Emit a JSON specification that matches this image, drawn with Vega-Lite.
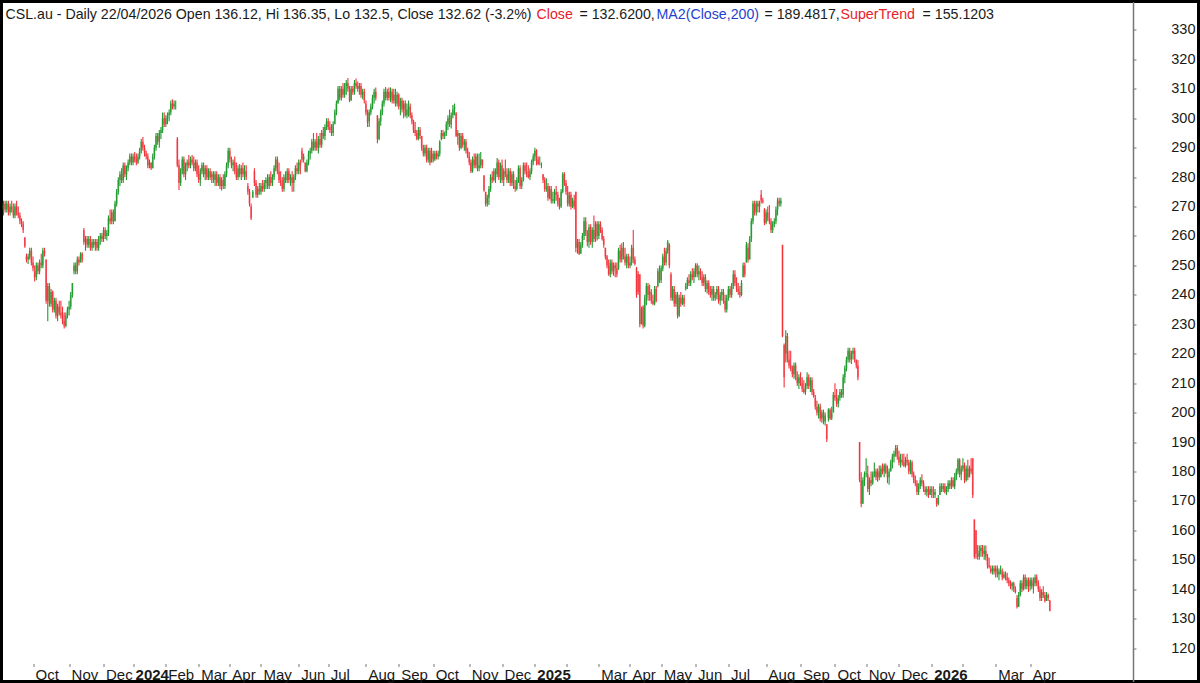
{"$schema":"https://vega.github.io/schema/vega-lite/v6.json","width":1197,"height":680,"autosize":{"type":"none"},"padding":{"left":1.5,"top":1.5,"right":1.5,"bottom":1.5},"background":"#ffffff","view":{"stroke":"#000000","strokeWidth":3},
"config":{"font":"Liberation Sans"},
"datasets":{"bars":[
{"d":1,"o":269,"h":272,"l":267,"c":271},{"d":2,"o":271,"h":272,"l":268,"c":269},{"d":3,"o":269,"h":272,"l":268,"c":271},{"d":4,"o":271,"h":272,"l":267,"c":268},{"d":5,"o":268,"h":271,"l":267,"c":270},{"d":6,"o":270,"h":272,"l":268,"c":269},{"d":7,"o":269,"h":271,"l":266,"c":267},{"d":8,"o":267,"h":271,"l":266,"c":270},{"d":9,"o":270,"h":272,"l":267,"c":268},{"d":10,"o":268,"h":270,"l":266,"c":267},
{"d":11,"o":267,"h":268,"l":264,"c":265},{"d":12,"o":265,"h":266,"l":263,"c":264},{"d":13,"o":264,"h":265,"l":261,"c":262},{"d":14,"o":259.5,"h":259.6,"l":256,"c":256.5},{"d":15,"o":253,"h":254,"l":251,"c":252},{"d":16,"o":252,"h":254,"l":250.5,"c":253},{"d":17,"o":253,"h":256,"l":252,"c":255},{"d":18,"o":255,"h":256,"l":250,"c":251},{"d":19,"o":251,"h":253,"l":248,"c":249},{"d":20,"o":248,"h":250,"l":244.5,"c":246},
{"d":21,"o":246,"h":251,"l":245,"c":250},{"d":22,"o":250,"h":251,"l":247,"c":248},{"d":23,"o":248,"h":252,"l":247,"c":251},{"d":24,"o":251,"h":254,"l":249,"c":250},{"d":25,"o":250,"h":256,"l":249,"c":255},{"d":26,"o":255,"h":256,"l":253,"c":254},{"d":27,"o":252,"h":252,"l":237,"c":238},{"d":28,"o":238,"h":244,"l":231,"c":243},{"d":29,"o":243,"h":244,"l":236,"c":237},{"d":30,"o":237,"h":242,"l":236,"c":241},
{"d":31,"o":241,"h":241.5,"l":234,"c":235},{"d":32,"o":235,"h":239,"l":234,"c":238},{"d":33,"o":238,"h":239,"l":232,"c":233},{"d":34,"o":233,"h":237,"l":231,"c":236},{"d":35,"o":236,"h":238,"l":233,"c":234},{"d":36,"o":234,"h":238,"l":232,"c":233},{"d":37,"o":233,"h":236,"l":230,"c":231},{"d":38,"o":231,"h":234,"l":228.6,"c":229.5},{"d":39,"o":229.5,"h":234,"l":229,"c":233},{"d":40,"o":233,"h":236,"l":232,"c":235},
{"d":41,"o":235,"h":238,"l":233,"c":236},{"d":42,"o":236,"h":241,"l":235,"c":240},{"d":43,"o":240,"h":244,"l":239,"c":244},{"d":44,"o":248,"h":251,"l":247,"c":250},{"d":45,"o":250,"h":251,"l":247,"c":248},{"d":46,"o":248,"h":253,"l":247,"c":252},{"d":47,"o":252,"h":253,"l":250,"c":251},{"d":48,"o":251,"h":254.5,"l":251,"c":254},{"d":49,"o":254,"h":254.5,"l":251,"c":252},{"d":50,"o":262,"h":262.7,"l":257,"c":258},
{"d":51,"o":258,"h":260,"l":255,"c":259},{"d":52,"o":259,"h":260,"l":256,"c":257},{"d":53,"o":257,"h":260,"l":256,"c":259},{"d":54,"o":259,"h":260,"l":255,"c":256},{"d":55,"o":256,"h":259,"l":255,"c":258},{"d":56,"o":258,"h":259,"l":256,"c":257},{"d":57,"o":257,"h":259,"l":255,"c":258},{"d":58,"o":258,"h":259,"l":255,"c":256},{"d":59,"o":256,"h":260,"l":255,"c":259},{"d":60,"o":259,"h":261,"l":257,"c":260},
{"d":61,"o":260,"h":261,"l":258,"c":259},{"d":62,"o":259,"h":263,"l":258,"c":262},{"d":63,"o":262,"h":263,"l":259,"c":260},{"d":64,"o":260,"h":262,"l":258.5,"c":261},{"d":65,"o":261,"h":267,"l":260,"c":266},{"d":66,"o":266,"h":269,"l":264,"c":265},{"d":67,"o":265,"h":269,"l":264,"c":268},{"d":68,"o":268,"h":269,"l":264,"c":265},{"d":69,"o":265,"h":272,"l":265,"c":271},{"d":70,"o":271,"h":276,"l":270,"c":275},
{"d":71,"o":275,"h":280,"l":274,"c":279},{"d":72,"o":279,"h":282,"l":277,"c":281},{"d":73,"o":281,"h":283,"l":278,"c":279},{"d":74,"o":279,"h":285,"l":278,"c":284},{"d":75,"o":284,"h":285,"l":280,"c":281},{"d":76,"o":281,"h":284,"l":279,"c":283},{"d":77,"o":283,"h":286,"l":282,"c":285},{"d":78,"o":285,"h":288,"l":284,"c":287},{"d":79,"o":287,"h":288,"l":284,"c":285},{"d":80,"o":285,"h":288,"l":284,"c":287},
{"d":81,"o":287,"h":288.5,"l":285,"c":286},{"d":82,"o":286,"h":288,"l":284,"c":285},{"d":83,"o":285,"h":288,"l":284.5,"c":287},{"d":84,"o":287,"h":290,"l":286,"c":289},{"d":85,"o":289,"h":293,"l":288,"c":292},{"d":86,"o":292,"h":293.6,"l":289,"c":290},{"d":87,"o":290,"h":291,"l":287,"c":288},{"d":88,"o":288,"h":289,"l":286,"c":287},{"d":89,"o":287,"h":288,"l":283,"c":284},{"d":90,"o":284,"h":286,"l":283,"c":285},
{"d":91,"o":285,"h":285,"l":282.4,"c":283},{"d":92,"o":283,"h":288,"l":283,"c":287},{"d":93,"o":287,"h":291,"l":286,"c":290},{"d":94,"o":290,"h":295,"l":289,"c":294},{"d":95,"o":294,"h":295,"l":291,"c":292},{"d":96,"o":292,"h":296,"l":290,"c":295},{"d":97,"o":295,"h":297,"l":293,"c":296},{"d":98,"o":296,"h":302,"l":295,"c":300},{"d":99,"o":300,"h":302,"l":297,"c":298},{"d":100,"o":298,"h":301,"l":297,"c":300},
{"d":101,"o":300,"h":302,"l":298,"c":301},{"d":102,"o":301,"h":303,"l":299,"c":302},{"d":103,"o":302,"h":306,"l":301,"c":305},{"d":104,"o":305,"h":306.5,"l":303,"c":304},{"d":105,"o":304,"h":306,"l":303,"c":305},{"d":106,"o":305,"h":306,"l":303,"c":305},{"d":107,"o":293,"h":293.6,"l":283.4,"c":284},{"d":108,"o":284,"h":286,"l":275.6,"c":278},{"d":109,"o":278,"h":283,"l":277,"c":282},{"d":110,"o":282,"h":287,"l":281,"c":286},
{"d":111,"o":286,"h":287,"l":280,"c":281},{"d":112,"o":281,"h":285,"l":279,"c":284},{"d":113,"o":284,"h":286,"l":282,"c":285},{"d":114,"o":285,"h":287.5,"l":283,"c":284},{"d":115,"o":284,"h":287,"l":283,"c":286},{"d":116,"o":286,"h":287.5,"l":284,"c":285},{"d":117,"o":285,"h":287,"l":282,"c":283},{"d":118,"o":283,"h":286,"l":282,"c":285},{"d":119,"o":285,"h":286,"l":280,"c":281},{"d":120,"o":281,"h":284,"l":278,"c":279},
{"d":121,"o":279,"h":283,"l":277,"c":282},{"d":122,"o":282,"h":285,"l":281,"c":284},{"d":123,"o":284,"h":285,"l":280,"c":281},{"d":124,"o":281,"h":284,"l":279,"c":283},{"d":125,"o":283,"h":284,"l":279,"c":280},{"d":126,"o":280,"h":283,"l":279,"c":282},{"d":127,"o":282,"h":283,"l":279,"c":280},{"d":128,"o":280,"h":282,"l":278,"c":281},{"d":129,"o":281,"h":282,"l":278,"c":279},{"d":130,"o":279,"h":282,"l":277,"c":281},
{"d":131,"o":281,"h":282,"l":277,"c":278},{"d":132,"o":278,"h":281,"l":277,"c":280},{"d":133,"o":280,"h":281,"l":276,"c":277},{"d":134,"o":277,"h":280,"l":275.5,"c":279},{"d":135,"o":279,"h":281,"l":276,"c":277},{"d":136,"o":277,"h":282,"l":276,"c":281},{"d":137,"o":281,"h":285,"l":280,"c":284},{"d":138,"o":284,"h":290,"l":283,"c":289},{"d":139,"o":289,"h":290,"l":285,"c":286},{"d":140,"o":286,"h":287,"l":283,"c":284},
{"d":141,"o":284,"h":286,"l":282,"c":285},{"d":142,"o":285,"h":287,"l":281,"c":282},{"d":143,"o":282,"h":285,"l":279,"c":280},{"d":144,"o":280,"h":284,"l":279,"c":283},{"d":145,"o":283,"h":284.5,"l":280,"c":281},{"d":146,"o":281,"h":284,"l":279,"c":283},{"d":147,"o":283,"h":285,"l":280,"c":281},{"d":148,"o":281,"h":284,"l":279,"c":282},{"d":149,"o":282,"h":284,"l":279,"c":280},{"d":150,"o":277,"h":278,"l":274,"c":275},
{"d":151,"o":275,"h":276,"l":270,"c":271},{"d":152,"o":270,"h":271,"l":265.4,"c":266},{"d":153,"o":273,"h":275.6,"l":273,"c":275},{"d":154,"o":282,"h":283,"l":277,"c":278},{"d":155,"o":278,"h":279,"l":273,"c":274},{"d":156,"o":274,"h":277,"l":273,"c":276},{"d":157,"o":276,"h":278,"l":274,"c":275},{"d":158,"o":275,"h":278,"l":274,"c":277},{"d":159,"o":277,"h":279,"l":275,"c":276},{"d":160,"o":276,"h":279,"l":275,"c":278},
{"d":161,"o":278,"h":280,"l":276,"c":279},{"d":162,"o":279,"h":281,"l":276,"c":277},{"d":163,"o":277,"h":281,"l":276,"c":280},{"d":164,"o":280,"h":282,"l":277,"c":278},{"d":165,"o":278,"h":281,"l":277,"c":280},{"d":166,"o":280,"h":284,"l":279,"c":283},{"d":167,"o":283,"h":287,"l":282,"c":286},{"d":168,"o":286,"h":287,"l":281,"c":282},{"d":169,"o":282,"h":285,"l":278,"c":279},{"d":170,"o":279,"h":282,"l":277,"c":278},
{"d":171,"o":278,"h":280,"l":275,"c":276},{"d":172,"o":276,"h":281,"l":275,"c":280},{"d":173,"o":280,"h":282,"l":278,"c":279},{"d":174,"o":279,"h":283,"l":278,"c":282},{"d":175,"o":282,"h":283,"l":278,"c":279},{"d":176,"o":279,"h":281,"l":277,"c":280},{"d":177,"o":280,"h":282,"l":275,"c":278},{"d":178,"o":278,"h":281,"l":275,"c":280},{"d":179,"o":280,"h":284,"l":279,"c":283},{"d":180,"o":283,"h":285,"l":281,"c":282},
{"d":181,"o":282,"h":286,"l":281,"c":285},{"d":182,"o":285,"h":286,"l":281,"c":284},{"d":183,"o":289,"h":290,"l":285,"c":286},{"d":184,"o":286,"h":288,"l":285,"c":287},{"d":185,"o":285,"h":285,"l":281.7,"c":282},{"d":186,"o":282,"h":286,"l":281.7,"c":285},{"d":187,"o":285,"h":289,"l":284,"c":288},{"d":188,"o":288,"h":290,"l":286,"c":289},{"d":189,"o":289,"h":293,"l":288,"c":292},{"d":190,"o":292,"h":295,"l":289,"c":290},
{"d":191,"o":290,"h":293,"l":289,"c":292},{"d":192,"o":292,"h":295,"l":289,"c":290},{"d":193,"o":290,"h":294,"l":288,"c":293},{"d":194,"o":293,"h":295,"l":290,"c":291},{"d":195,"o":291,"h":296,"l":290,"c":295},{"d":196,"o":295,"h":297,"l":293,"c":294},{"d":197,"o":294,"h":298,"l":292.5,"c":297},{"d":198,"o":297,"h":300,"l":296,"c":299},{"d":199,"o":299,"h":300,"l":296,"c":297},{"d":200,"o":297,"h":299,"l":295,"c":296},
{"d":201,"o":296,"h":298,"l":294,"c":295},{"d":202,"o":295,"h":299,"l":294,"c":298},{"d":203,"o":298,"h":303,"l":298,"c":302},{"d":204,"o":302,"h":306,"l":301,"c":305},{"d":205,"o":305,"h":311,"l":305,"c":310},{"d":206,"o":310,"h":311,"l":306,"c":307},{"d":207,"o":307,"h":311,"l":306,"c":310},{"d":208,"o":310,"h":312,"l":307,"c":308},{"d":209,"o":308,"h":312,"l":307,"c":311},{"d":210,"o":311,"h":313,"l":308,"c":312},
{"d":211,"o":312,"h":313.7,"l":309,"c":310},{"d":212,"o":310,"h":311,"l":305.5,"c":306},{"d":213,"o":306,"h":311,"l":306,"c":310},{"d":214,"o":310,"h":311,"l":308,"c":309},{"d":215,"o":309,"h":313,"l":308,"c":312},{"d":216,"o":312,"h":313.5,"l":310,"c":311},{"d":217,"o":311,"h":312.5,"l":309,"c":310},{"d":218,"o":310,"h":312,"l":308,"c":311},{"d":219,"o":311,"h":312,"l":307,"c":308},{"d":220,"o":308,"h":310,"l":306.5,"c":309},
{"d":221,"o":309,"h":310,"l":305,"c":306},{"d":222,"o":305,"h":306,"l":301,"c":302},{"d":223,"o":302,"h":303,"l":297,"c":298.5},{"d":224,"o":299,"h":303,"l":297,"c":302},{"d":225,"o":302,"h":305,"l":301,"c":304},{"d":226,"o":304,"h":308,"l":303,"c":307},{"d":227,"o":307,"h":310,"l":305,"c":309},{"d":228,"o":309,"h":310.5,"l":306,"c":307},{"d":229,"o":301,"h":301,"l":291.5,"c":293},{"d":230,"o":293,"h":300,"l":292.5,"c":299},
{"d":231,"o":299,"h":303,"l":297.5,"c":302},{"d":232,"o":302,"h":306,"l":301,"c":305},{"d":233,"o":305,"h":310,"l":304,"c":309},{"d":234,"o":309,"h":310.6,"l":306,"c":307},{"d":235,"o":307,"h":310,"l":306,"c":309},{"d":236,"o":309,"h":310.5,"l":306,"c":307},{"d":237,"o":307,"h":310.5,"l":305.5,"c":309},{"d":238,"o":309,"h":310,"l":305,"c":306},{"d":239,"o":306,"h":310,"l":305,"c":308},{"d":240,"o":308,"h":310,"l":304,"c":305},
{"d":241,"o":305,"h":309,"l":304,"c":308},{"d":242,"o":308,"h":308.5,"l":303,"c":304},{"d":243,"o":304,"h":307,"l":301,"c":306},{"d":244,"o":306,"h":307,"l":302,"c":303},{"d":245,"o":303,"h":306,"l":300,"c":305},{"d":246,"o":305,"h":306,"l":300.5,"c":301},{"d":247,"o":301,"h":305,"l":300,"c":303},{"d":248,"o":303,"h":306,"l":300.5,"c":304},{"d":249,"o":304,"h":305,"l":300,"c":301},{"d":250,"o":301,"h":302,"l":298,"c":299},
{"d":251,"o":299,"h":299.5,"l":295,"c":296},{"d":252,"o":296,"h":298.7,"l":294,"c":295},{"d":253,"o":295,"h":296,"l":292.5,"c":293},{"d":254,"o":293,"h":297,"l":292.5,"c":296},{"d":255,"o":296,"h":297,"l":293,"c":294},{"d":256,"o":294,"h":294,"l":289,"c":290},{"d":257,"o":290,"h":291,"l":287,"c":288},{"d":258,"o":288,"h":291,"l":287,"c":290},{"d":259,"o":290,"h":291,"l":285,"c":286},{"d":260,"o":286,"h":290,"l":285,"c":289},
{"d":261,"o":289,"h":290,"l":284,"c":285},{"d":262,"o":285,"h":290,"l":285,"c":288},{"d":263,"o":288,"h":289,"l":285,"c":286},{"d":264,"o":286,"h":289,"l":285.5,"c":288},{"d":265,"o":288,"h":289,"l":286,"c":287},{"d":266,"o":287,"h":289,"l":286,"c":288},{"d":267,"o":288,"h":292.5,"l":287,"c":292},{"d":268,"o":293,"h":296,"l":292.5,"c":295},{"d":269,"o":295,"h":296,"l":293,"c":294},{"d":270,"o":294,"h":295.5,"l":293,"c":295},
{"d":271,"o":295,"h":299,"l":294,"c":298},{"d":272,"o":298,"h":301,"l":296,"c":300},{"d":273,"o":300,"h":303,"l":297,"c":298},{"d":274,"o":298,"h":302,"l":296.5,"c":301},{"d":275,"o":301,"h":304.5,"l":300,"c":303},{"d":276,"o":303,"h":305,"l":301,"c":304},{"d":277,"o":302,"h":302,"l":293.6,"c":294},{"d":278,"o":294,"h":296,"l":291,"c":295},{"d":279,"o":295,"h":295,"l":289,"c":290},{"d":280,"o":290,"h":295,"l":289.5,"c":294},
{"d":281,"o":294,"h":295,"l":290,"c":291},{"d":282,"o":291,"h":293,"l":289,"c":292},{"d":283,"o":292,"h":293,"l":288,"c":289},{"d":284,"o":289,"h":290,"l":286.5,"c":287},{"d":285,"o":287,"h":288.5,"l":284,"c":285},{"d":286,"o":285,"h":286,"l":281.4,"c":282},{"d":287,"o":282,"h":287,"l":281.5,"c":286},{"d":288,"o":286,"h":288,"l":283,"c":284},{"d":289,"o":284,"h":288,"l":283,"c":287},{"d":290,"o":287,"h":288,"l":282,"c":283},
{"d":291,"o":283,"h":288,"l":282,"c":284},{"d":292,"o":284,"h":288.5,"l":283,"c":286},{"d":293,"o":286,"h":286,"l":283,"c":284},{"d":294,"o":280.5,"h":280.7,"l":275,"c":275.5},{"d":295,"o":275,"h":275,"l":270,"c":271},{"d":296,"o":271,"h":274,"l":270,"c":273},{"d":297,"o":273,"h":277,"l":270.5,"c":276},{"d":298,"o":276,"h":281,"l":275,"c":280},{"d":299,"o":280,"h":282,"l":278,"c":279},{"d":300,"o":279,"h":283,"l":278.5,"c":282},
{"d":301,"o":282,"h":283,"l":278,"c":281},{"d":302,"o":281,"h":286.5,"l":280,"c":285},{"d":303,"o":285,"h":286,"l":279,"c":280},{"d":304,"o":280,"h":285,"l":278,"c":284},{"d":305,"o":284,"h":286,"l":278,"c":279},{"d":306,"o":279,"h":283,"l":277,"c":282},{"d":307,"o":282,"h":286,"l":280,"c":281},{"d":308,"o":281,"h":283,"l":278,"c":279},{"d":309,"o":279,"h":283,"l":278,"c":282},{"d":310,"o":282,"h":283,"l":277,"c":278},
{"d":311,"o":278,"h":282,"l":277,"c":281},{"d":312,"o":281,"h":282,"l":276,"c":277},{"d":313,"o":277,"h":279,"l":275,"c":276},{"d":314,"o":276,"h":280,"l":275.5,"c":279},{"d":315,"o":279,"h":284,"l":278,"c":283},{"d":316,"o":283,"h":284,"l":276,"c":277},{"d":317,"o":277,"h":280,"l":276,"c":279},{"d":318,"o":279,"h":285,"l":278.5,"c":284},{"d":319,"o":284,"h":285,"l":281,"c":282},{"d":320,"o":282,"h":285,"l":280,"c":281},
{"d":321,"o":281,"h":284,"l":279.5,"c":280},{"d":322,"o":280,"h":283,"l":279,"c":282},{"d":323,"o":282,"h":286,"l":281,"c":285},{"d":324,"o":285,"h":288,"l":284,"c":287},{"d":325,"o":287,"h":290,"l":285.5,"c":289},{"d":326,"o":289,"h":289.5,"l":284,"c":286},{"d":327,"o":286,"h":287,"l":284,"c":284.5},{"d":328,"o":285,"h":287,"l":284,"c":285},{"d":329,"o":284,"h":285,"l":283,"c":284},{"d":330,"o":281,"h":281,"l":278,"c":279},
{"d":331,"o":279,"h":280,"l":275,"c":276},{"d":332,"o":276,"h":279.6,"l":275,"c":276.5},{"d":333,"o":277,"h":278,"l":272,"c":273},{"d":334,"o":273,"h":277,"l":272.5,"c":276},{"d":335,"o":276,"h":277,"l":271,"c":272},{"d":336,"o":272,"h":275,"l":271,"c":272.5},{"d":337,"o":272,"h":276,"l":271,"c":275},{"d":338,"o":275,"h":277,"l":272,"c":274},{"d":339,"o":274,"h":275,"l":270,"c":271},{"d":340,"o":271,"h":273,"l":269,"c":270},
{"d":341,"o":270,"h":276,"l":269.5,"c":275},{"d":342,"o":275,"h":281.7,"l":274.5,"c":281},{"d":343,"o":281,"h":281.7,"l":277,"c":278},{"d":344,"o":278,"h":279,"l":274,"c":275},{"d":345,"o":275,"h":277,"l":270,"c":271},{"d":346,"o":271,"h":275,"l":270,"c":274},{"d":347,"o":274,"h":275,"l":269,"c":270},{"d":348,"o":270,"h":273,"l":269.5,"c":272},{"d":349,"o":272,"h":274,"l":269,"c":270},{"d":350,"o":275,"h":275,"l":254.5,"c":256},
{"d":351,"o":256,"h":259,"l":254,"c":258},{"d":352,"o":258,"h":259,"l":253.5,"c":254},{"d":353,"o":254,"h":258,"l":254,"c":257},{"d":354,"o":257,"h":261,"l":256,"c":260},{"d":355,"o":260,"h":266.4,"l":258.6,"c":265},{"d":356,"o":265,"h":266.4,"l":260,"c":261},{"d":357,"o":261,"h":262,"l":256.5,"c":258},{"d":358,"o":258,"h":264,"l":256,"c":263},{"d":359,"o":263,"h":264,"l":257,"c":258},{"d":360,"o":258,"h":263,"l":256,"c":262},
{"d":361,"o":262,"h":267,"l":258,"c":259},{"d":362,"o":259,"h":265,"l":258,"c":264},{"d":363,"o":264,"h":265,"l":258.5,"c":260},{"d":364,"o":260,"h":265,"l":259,"c":264},{"d":365,"o":264,"h":265,"l":261,"c":262},{"d":366,"o":262,"h":263,"l":258.5,"c":259},{"d":367,"o":259,"h":260,"l":256,"c":257},{"d":368,"o":256,"h":256,"l":252,"c":253},{"d":369,"o":253,"h":253.5,"l":249,"c":250},{"d":370,"o":250,"h":252,"l":246.5,"c":247},
{"d":371,"o":247,"h":252,"l":246,"c":251},{"d":372,"o":251,"h":252,"l":247,"c":248},{"d":373,"o":248,"h":251,"l":246.5,"c":250},{"d":374,"o":250,"h":251,"l":246,"c":249},{"d":375,"o":249,"h":251,"l":246,"c":247},{"d":376,"o":249,"h":256,"l":248.5,"c":255},{"d":377,"o":255,"h":257,"l":251,"c":252},{"d":378,"o":252,"h":257.5,"l":251,"c":256},{"d":379,"o":256,"h":258,"l":252,"c":253},{"d":380,"o":253,"h":256,"l":250,"c":251},
{"d":381,"o":251,"h":254,"l":249,"c":253},{"d":382,"o":253,"h":254,"l":249,"c":250},{"d":383,"o":250,"h":253,"l":249,"c":251},{"d":384,"o":251,"h":257,"l":250,"c":256},{"d":385,"o":256,"h":262,"l":250.7,"c":252},{"d":386,"o":252,"h":253,"l":250,"c":250.5},{"d":387,"o":249,"h":249.5,"l":239,"c":240},{"d":388,"o":247,"h":248,"l":240,"c":241},{"d":389,"o":247,"h":247,"l":229,"c":230},{"d":390,"o":230,"h":236,"l":230,"c":235},
{"d":391,"o":236,"h":236.5,"l":228.6,"c":229.5},{"d":392,"o":229.5,"h":240,"l":229,"c":239},{"d":393,"o":239,"h":244,"l":236.5,"c":243},{"d":394,"o":243,"h":244,"l":238,"c":240},{"d":395,"o":240,"h":243.5,"l":238,"c":241},{"d":396,"o":241,"h":242,"l":237,"c":238},{"d":397,"o":238,"h":240,"l":236.5,"c":237},{"d":398,"o":237,"h":243,"l":236.5,"c":242},{"d":399,"o":242,"h":243,"l":237.5,"c":238},{"d":400,"o":243,"h":249,"l":242.5,"c":248},
{"d":401,"o":248,"h":250,"l":244,"c":245},{"d":402,"o":245,"h":250,"l":244,"c":249},{"d":403,"o":249,"h":254,"l":248,"c":253},{"d":404,"o":253,"h":256,"l":250,"c":251},{"d":405,"o":251,"h":256,"l":250,"c":255},{"d":406,"o":255,"h":258.6,"l":254,"c":258},{"d":407,"o":257,"h":257.5,"l":249,"c":250},{"d":408,"o":247,"h":247.7,"l":238,"c":239},{"d":409,"o":239,"h":243,"l":238,"c":242},{"d":410,"o":242,"h":243,"l":236,"c":237},
{"d":411,"o":237,"h":241,"l":236,"c":240},{"d":412,"o":240,"h":241,"l":232,"c":233},{"d":413,"o":233,"h":240,"l":232.5,"c":239},{"d":414,"o":239,"h":241,"l":236,"c":237},{"d":415,"o":237,"h":240,"l":236.5,"c":239},{"d":416,"o":239,"h":240,"l":236,"c":237},{"d":417,"o":242,"h":244,"l":241.5,"c":243},{"d":418,"o":243,"h":246,"l":242,"c":245},{"d":419,"o":245,"h":247,"l":243,"c":244},{"d":420,"o":244,"h":248,"l":243,"c":247},
{"d":421,"o":247,"h":249,"l":245,"c":246},{"d":422,"o":246,"h":249,"l":244,"c":248},{"d":423,"o":248,"h":250.7,"l":246,"c":250},{"d":424,"o":250,"h":250.7,"l":246,"c":247},{"d":425,"o":247,"h":250,"l":245,"c":248},{"d":426,"o":248,"h":249,"l":245,"c":246},{"d":427,"o":246,"h":248,"l":243,"c":244},{"d":428,"o":244,"h":247,"l":243,"c":246},{"d":429,"o":246,"h":247,"l":241,"c":242},{"d":430,"o":242,"h":245,"l":240.5,"c":244},
{"d":431,"o":244,"h":245,"l":240,"c":241},{"d":432,"o":241,"h":243,"l":239,"c":240},{"d":433,"o":240,"h":243,"l":238,"c":242},{"d":434,"o":242,"h":243,"l":238,"c":239},{"d":435,"o":239,"h":241,"l":238,"c":240},{"d":436,"o":240,"h":243,"l":238.5,"c":242},{"d":437,"o":242,"h":243,"l":237,"c":238},{"d":438,"o":238,"h":241,"l":236.5,"c":240},{"d":439,"o":240,"h":242,"l":238,"c":241},{"d":440,"o":241,"h":242,"l":237,"c":238},
{"d":441,"o":238,"h":240,"l":234,"c":235},{"d":442,"o":235,"h":240,"l":234,"c":239},{"d":443,"o":239,"h":243,"l":238,"c":242},{"d":444,"o":242,"h":243,"l":239,"c":240},{"d":445,"o":240,"h":244,"l":239,"c":243},{"d":446,"o":243,"h":248.4,"l":242,"c":247},{"d":447,"o":247,"h":248.4,"l":243,"c":244},{"d":448,"o":244,"h":246,"l":241,"c":242},{"d":449,"o":242,"h":244,"l":240,"c":241},{"d":450,"o":241,"h":243,"l":239,"c":240},
{"d":451,"o":240,"h":245,"l":239.5,"c":244},{"d":452,"o":246,"h":251,"l":246,"c":250},{"d":453,"o":250,"h":251,"l":246,"c":247},{"d":454,"o":251,"h":258,"l":251,"c":257},{"d":455,"o":256,"h":257.5,"l":251,"c":252},{"d":456,"o":252,"h":260,"l":252,"c":259},{"d":457,"o":259,"h":266,"l":258,"c":265},{"d":458,"o":265,"h":272,"l":264,"c":271},{"d":459,"o":271,"h":272,"l":267,"c":268},{"d":460,"o":268,"h":272,"l":267,"c":271},
{"d":461,"o":271,"h":272,"l":268,"c":270},{"d":462,"o":270,"h":272,"l":268,"c":271},{"d":463,"o":274,"h":275.6,"l":271,"c":272},{"d":464,"o":272,"h":273,"l":271,"c":271.5},{"d":465,"o":269,"h":269.5,"l":263.7,"c":264.5},{"d":466,"o":264.5,"h":269,"l":264,"c":268},{"d":467,"o":268,"h":270,"l":265,"c":266},{"d":468,"o":266,"h":270.5,"l":264,"c":265},{"d":469,"o":265,"h":266,"l":261,"c":262},{"d":470,"o":262,"h":265,"l":261,"c":264},
{"d":471,"o":264,"h":266,"l":263,"c":265},{"d":472,"o":265,"h":270,"l":264,"c":269},{"d":473,"o":269,"h":273,"l":267,"c":272},{"d":474,"o":272,"h":273,"l":270,"c":271},{"d":475,"o":271,"h":273,"l":270,"c":272},{"d":476,"o":257,"h":257,"l":225.6,"c":226},{"d":477,"o":223,"h":223.5,"l":208.5,"c":212},{"d":478,"o":220,"h":228,"l":217,"c":226},{"d":479,"o":226,"h":227,"l":217,"c":218},{"d":480,"o":218,"h":221,"l":215,"c":216},
{"d":481,"o":216,"h":221,"l":214,"c":215},{"d":482,"o":215,"h":216,"l":212,"c":213},{"d":483,"o":213,"h":217,"l":211.5,"c":216},{"d":484,"o":216,"h":217,"l":211,"c":212},{"d":485,"o":212,"h":214,"l":209,"c":210},{"d":486,"o":210,"h":213,"l":208,"c":212},{"d":487,"o":212,"h":213.7,"l":209,"c":210},{"d":488,"o":210,"h":212,"l":207,"c":208},{"d":489,"o":208,"h":211,"l":206.5,"c":207},{"d":490,"o":207,"h":210,"l":206,"c":209},
{"d":491,"o":209,"h":213.7,"l":208,"c":212},{"d":492,"o":212,"h":213,"l":208,"c":209},{"d":493,"o":209,"h":212,"l":207,"c":211},{"d":494,"o":211,"h":212,"l":206,"c":207},{"d":495,"o":207,"h":208,"l":205,"c":205.5},{"d":496,"o":205,"h":206,"l":201,"c":202},{"d":497,"o":202,"h":204,"l":199,"c":200},{"d":498,"o":200,"h":203,"l":198,"c":202},{"d":499,"o":202,"h":203,"l":197,"c":198},{"d":500,"o":198,"h":201,"l":196.5,"c":200},
{"d":501,"o":200,"h":201,"l":196,"c":197},{"d":502,"o":197,"h":200,"l":195.6,"c":199},{"d":503,"o":196,"h":196,"l":190,"c":191},{"d":504,"o":198,"h":201.5,"l":197,"c":201},{"d":505,"o":201,"h":201.5,"l":197.5,"c":198},{"d":506,"o":198,"h":202,"l":197.5,"c":200},{"d":507,"o":200,"h":207,"l":200,"c":206},{"d":508,"o":206,"h":210,"l":204,"c":205},{"d":509,"o":205,"h":208,"l":202,"c":203},{"d":510,"o":203,"h":206,"l":201.7,"c":205},
{"d":511,"o":205,"h":208,"l":204,"c":207},{"d":512,"o":207,"h":208,"l":205,"c":206},{"d":513,"o":206,"h":213,"l":205,"c":212},{"d":514,"o":212,"h":216,"l":210,"c":215},{"d":515,"o":215,"h":219,"l":214,"c":218},{"d":516,"o":218,"h":222,"l":217,"c":221},{"d":517,"o":221,"h":222,"l":217,"c":218},{"d":518,"o":218,"h":221,"l":216.5,"c":220},{"d":519,"o":220,"h":222,"l":218,"c":221},{"d":520,"o":221,"h":222,"l":217,"c":218},
{"d":521,"o":218,"h":218,"l":215,"c":216},{"d":522,"o":216,"h":217.8,"l":211,"c":212},{"d":523,"o":190,"h":190,"l":176.3,"c":177},{"d":524,"o":177,"h":179.7,"l":167.8,"c":169},{"d":525,"o":169,"h":178,"l":169,"c":177},{"d":526,"o":177,"h":180,"l":175,"c":179},{"d":527,"o":179,"h":184.5,"l":178,"c":179.5},{"d":528,"o":179,"h":182,"l":173,"c":174},{"d":529,"o":174,"h":178,"l":172,"c":177},{"d":530,"o":177,"h":180,"l":175,"c":176},
{"d":531,"o":176,"h":180,"l":175.5,"c":179},{"d":532,"o":179,"h":183,"l":178,"c":180},{"d":533,"o":180,"h":181,"l":177,"c":178},{"d":534,"o":178,"h":181,"l":176.5,"c":180},{"d":535,"o":180,"h":182,"l":177,"c":178},{"d":536,"o":178,"h":182,"l":178,"c":181},{"d":537,"o":181,"h":182.7,"l":179,"c":180},{"d":538,"o":180,"h":182.7,"l":178,"c":182},{"d":539,"o":182,"h":182.7,"l":179,"c":179.5},{"d":540,"o":179,"h":182,"l":176,"c":178},
{"d":541,"o":178,"h":181,"l":175.5,"c":180},{"d":542,"o":180,"h":184,"l":180,"c":183},{"d":543,"o":183,"h":186,"l":181,"c":185},{"d":544,"o":185,"h":187,"l":183,"c":186},{"d":545,"o":186,"h":189,"l":185,"c":188},{"d":546,"o":188,"h":189,"l":184,"c":185},{"d":547,"o":185,"h":187,"l":182,"c":183},{"d":548,"o":183,"h":186,"l":181.3,"c":184},{"d":549,"o":184,"h":186,"l":182,"c":183},{"d":550,"o":183,"h":186,"l":181.5,"c":182},
{"d":551,"o":182,"h":185,"l":181.3,"c":184},{"d":552,"o":184,"h":186,"l":182,"c":183},{"d":553,"o":183,"h":184,"l":179,"c":180},{"d":554,"o":180,"h":184,"l":179,"c":183},{"d":555,"o":183,"h":183.7,"l":178,"c":179},{"d":556,"o":179,"h":180,"l":176,"c":177},{"d":557,"o":177,"h":178.6,"l":175,"c":176},{"d":558,"o":176,"h":177,"l":172,"c":173},{"d":559,"o":173,"h":176,"l":172,"c":175},{"d":560,"o":175,"h":178,"l":174,"c":177},
{"d":561,"o":177,"h":179,"l":175,"c":176},{"d":562,"o":176,"h":177,"l":173,"c":174},{"d":563,"o":174,"h":175,"l":172,"c":173},{"d":564,"o":173,"h":175,"l":171.5,"c":174},{"d":565,"o":174,"h":175,"l":171,"c":172},{"d":566,"o":172,"h":175,"l":172,"c":174},{"d":567,"o":174,"h":175,"l":171,"c":173},{"d":568,"o":173,"h":175,"l":171,"c":172},{"d":569,"o":172,"h":174,"l":171,"c":173},{"d":570,"o":171,"h":171,"l":168,"c":169},
{"d":571,"o":169,"h":172,"l":168.5,"c":171},{"d":572,"o":172,"h":176,"l":172,"c":175},{"d":573,"o":175,"h":176,"l":173,"c":174},{"d":574,"o":174,"h":176,"l":173,"c":175},{"d":575,"o":175,"h":176,"l":172.5,"c":173},{"d":576,"o":173,"h":175,"l":172,"c":174},{"d":577,"o":174,"h":177,"l":173,"c":176},{"d":578,"o":176,"h":177,"l":174,"c":175},{"d":579,"o":175,"h":178,"l":174,"c":177},{"d":580,"o":177,"h":178,"l":174.5,"c":175},
{"d":581,"o":175,"h":179.5,"l":174,"c":178},{"d":582,"o":178,"h":181,"l":177,"c":180},{"d":583,"o":180,"h":184.5,"l":179,"c":184},{"d":584,"o":184,"h":184.5,"l":178,"c":179},{"d":585,"o":179,"h":182,"l":177,"c":181},{"d":586,"o":181,"h":184.5,"l":180,"c":182},{"d":587,"o":182,"h":183,"l":176,"c":177},{"d":588,"o":177,"h":182,"l":176.5,"c":181},{"d":589,"o":181,"h":184,"l":177,"c":178},{"d":590,"o":178,"h":182,"l":178,"c":181},
{"d":591,"o":181,"h":184.5,"l":179,"c":180},{"d":592,"o":184.5,"h":184.5,"l":171,"c":172},{"d":593,"o":163.7,"h":163.7,"l":150.3,"c":151},{"d":594,"o":160,"h":160,"l":150.3,"c":152},{"d":595,"o":152,"h":155,"l":150,"c":151},{"d":596,"o":151,"h":154.8,"l":150,"c":153},{"d":597,"o":153,"h":155,"l":151,"c":154},{"d":598,"o":154,"h":155,"l":151,"c":152},{"d":599,"o":152,"h":154.8,"l":150,"c":153},{"d":600,"o":153,"h":154.8,"l":149.7,"c":151},
{"d":601,"o":151,"h":152,"l":147,"c":148},{"d":602,"o":148,"h":150.7,"l":147,"c":147.5},{"d":603,"o":147,"h":148,"l":145.3,"c":146},{"d":604,"o":146,"h":148,"l":145,"c":147},{"d":605,"o":147,"h":148,"l":145,"c":146},{"d":606,"o":146,"h":148,"l":144,"c":147},{"d":607,"o":147,"h":148,"l":144,"c":145},{"d":608,"o":145,"h":147,"l":143,"c":146},{"d":609,"o":146,"h":148,"l":145,"c":146.5},{"d":610,"o":146,"h":147,"l":143,"c":144},
{"d":611,"o":144,"h":146,"l":143.5,"c":145},{"d":612,"o":145,"h":146,"l":143,"c":144},{"d":613,"o":144,"h":145.6,"l":142,"c":143},{"d":614,"o":143,"h":144,"l":141,"c":142},{"d":615,"o":142,"h":143,"l":140,"c":141},{"d":616,"o":141,"h":142.5,"l":139.5,"c":142},{"d":617,"o":142,"h":142.5,"l":139,"c":140},{"d":618,"o":140,"h":141,"l":138.5,"c":139},{"d":619,"o":137,"h":138,"l":133.4,"c":134},{"d":620,"o":134,"h":139,"l":134,"c":138},
{"d":621,"o":138,"h":143,"l":137.5,"c":142},{"d":622,"o":142,"h":143,"l":139,"c":140},{"d":623,"o":140,"h":145,"l":139.5,"c":144},{"d":624,"o":144,"h":145,"l":140,"c":141},{"d":625,"o":141,"h":144,"l":140,"c":143},{"d":626,"o":143,"h":144,"l":139,"c":141},{"d":627,"o":141,"h":144,"l":139.5,"c":143},{"d":628,"o":143,"h":144,"l":140,"c":141},{"d":629,"o":141,"h":144,"l":138.5,"c":142},{"d":630,"o":142,"h":145,"l":141,"c":144},
{"d":631,"o":144,"h":145,"l":141,"c":142},{"d":632,"o":142,"h":143,"l":139,"c":140},{"d":633,"o":140,"h":141,"l":136,"c":137},{"d":634,"o":137,"h":140,"l":136,"c":139},{"d":635,"o":139,"h":141,"l":137,"c":138},{"d":636,"o":138,"h":139,"l":135.5,"c":136},{"d":637,"o":136,"h":139,"l":136,"c":138},{"d":638,"o":138,"h":138.5,"l":136,"c":137},{"d":639,"o":136.12,"h":136.35,"l":132.5,"c":132.62}
],
"header":[
{"text":"CSL.au - Daily 22/04/2026 Open 136.12, Hi 136.35, Lo 132.5, Close 132.62 (-3.2%)","d":2.2,"v":335.1,"kind":"plain"},
{"text":"Close","d":326,"v":335.1,"kind":"red"},
{"text":"= 132.6200,","d":352.2,"v":335.1,"kind":"plain"},
{"text":"MA2(Close,200)","d":399.2,"v":335.1,"kind":"blue"},
{"text":"= 189.4817,","d":465,"v":335.1,"kind":"plain"},
{"text":"SuperTrend","d":511.4,"v":335.1,"kind":"red"},
{"text":"= 155.1203","d":561.4,"v":335.1,"kind":"plain"}
]},
"layer":[
{"data":{"name":"bars"},"mark":{"type":"rule","strokeWidth":1.1},
"encoding":{
"x":{"field":"d","type":"quantitative","scale":{"domain":[-0.22,729.66],"nice":false,"zero":false},
"axis":{"orient":"bottom","offset":-18,"title":null,"grid":false,"domain":false,"tickColor":"#777777","tickSize":3,"tickWidth":1,"tickCount":100,
"values":[19,41,62,80,100,120,139,158,181,199,222,242,263,285,305,325,344,364,383,402,423,443,466,487,508,527,547,567,586,606,627],
"labelExpr":"['Oct','Nov','Dec','2024','Feb','Mar','Apr','May','Jun','Jul','Aug','Sep','Oct','Nov','Dec','2025','','Mar','Apr','May','Jun','Jul','Aug','Sep','Oct','Nov','Dec','2026','','Mar','Apr'][indexof([19,41,62,80,100,120,139,158,181,199,222,242,263,285,305,325,344,364,383,402,423,443,466,487,508,527,547,567,586,606,627],datum.value)]",
"labelAlign":"left","labelBaseline":"alphabetic","labelOffset":2,"labelPadding":12.5,"labelFontSize":15,"labelColor":"#1a1a1a","labelOverlap":false,"labelFlush":false,"labelBound":false,
"labelFontWeight":{"condition":{"test":"indexof([80,325,567],datum.value)>=0","value":"bold"},"value":"normal"}}},
"y":{"field":"l","type":"quantitative","scale":{"domain":[108.62,339.68],"nice":false,"zero":false},
"axis":{"orient":"right","offset":-65.5,"title":null,"grid":false,"domainColor":"#777777","domainWidth":1.5,"tickColor":"#777777","tickSize":3,"tickWidth":1,"tickCount":100,
"values":[120,130,140,150,160,170,180,190,200,210,220,230,240,250,260,270,280,290,300,310,320,330],
"labelAlign":"right","labelPadding":59,"labelFontSize":14.5,"labelColor":"#1a1a1a","labelOverlap":false,"labelFlush":false,"labelBound":false}},
"y2":{"field":"h"},
"color":{"condition":{"test":"datum.c>=datum.o","value":"#1f9a2e"},"value":"#f4323c"}}},
{"data":{"name":"bars"},"mark":{"type":"rule","strokeWidth":1.7,"opacity":0.7},
"encoding":{
"x":{"field":"d","type":"quantitative"},
"y":{"field":"o","type":"quantitative"},
"y2":{"field":"c"},
"color":{"condition":{"test":"datum.c>=datum.o","value":"#1f9a2e"},"value":"#f4323c"}}},
{"mark":{"type":"rule","color":"#777777","strokeWidth":1.5},
"encoding":{"x":{"datum":-0.22,"type":"quantitative"},"x2":{"datum":689},"y":{"datum":114.75,"type":"quantitative"}}},
{"data":{"name":"header"},"mark":{"type":"text","align":"left","baseline":"middle","fontSize":14.2,"font":"Liberation Sans"},
"encoding":{
"x":{"field":"d","type":"quantitative"},
"y":{"field":"v","type":"quantitative"},
"text":{"field":"text"},
"color":{"field":"kind","type":"nominal","legend":null,"scale":{"domain":["plain","red","blue"],"range":["#1a1a1a","#e8202a","#1f3fd0"]}}}}
]}
